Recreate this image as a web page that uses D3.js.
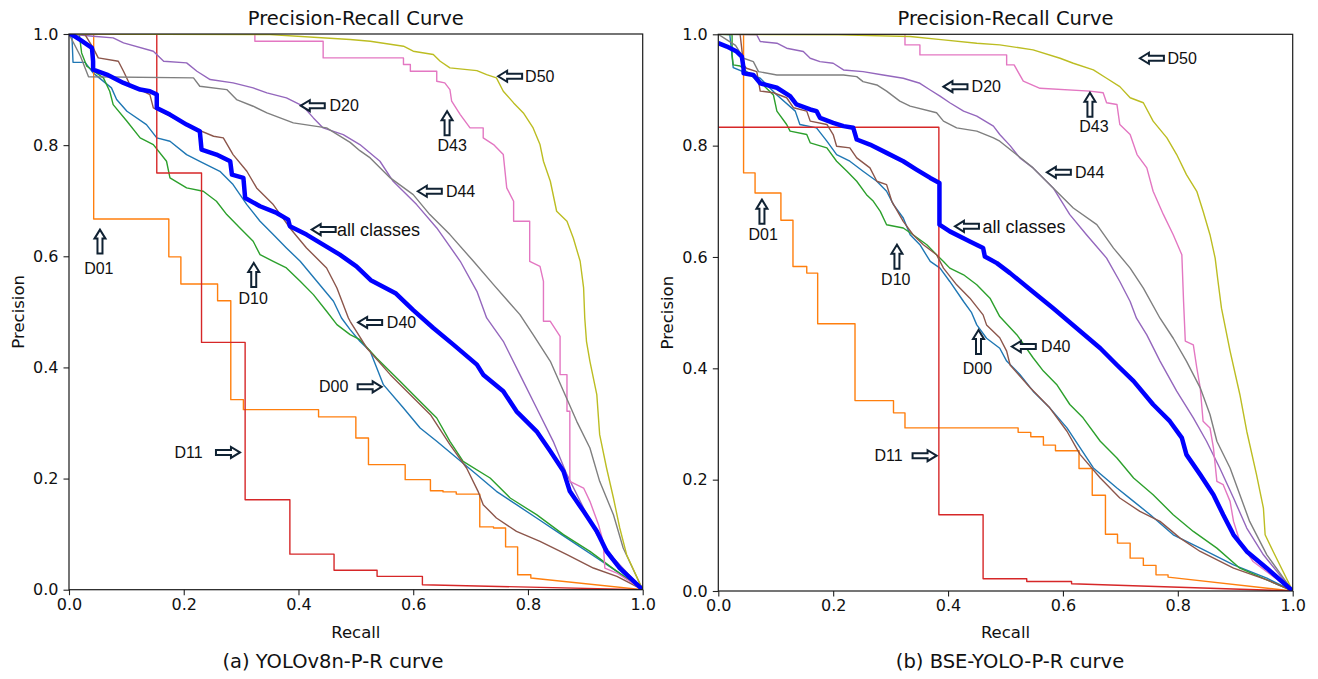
<!DOCTYPE html>
<html>
<head>
<meta charset="utf-8">
<script src="https://cdn.jsdelivr.net/npm/d3@7"></script>
<style>
  body { margin: 0; background: #fff; }
  .cjk { font-family: "DejaVu Sans", "Noto Sans", sans-serif; fill: #111; }
  .note { font-family: "Liberation Sans", Arial, sans-serif; font-size: 16px; fill: #111; }
</style>
</head>
<body>
<svg id="chart" width="1318" height="679"></svg>
<script>
// class names, in the order they are plotted
const classNames = ["D00", "D01", "D10", "D11", "D20", "D40", "D43", "D44", "D50"];
const tickValues = [0, 0.2, 0.4, 0.6, 0.8, 1.0];

// ---- (a) YOLOv8n : [recall, precision] ----
const v8_D00 = [[0,1],[0.005,1],[0.007,0.949],[0.028,0.949],[0.042,0.930],[0.074,0.903],[0.083,0.882],[0.101,0.861],[0.135,0.837],[0.153,0.813],[0.176,0.807],[0.205,0.783],[0.228,0.771],[0.263,0.753],[0.286,0.729],[0.310,0.693],[0.333,0.663],[0.356,0.639],[0.379,0.615],[0.403,0.591],[0.432,0.555],[0.461,0.519],[0.475,0.489],[0.490,0.468],[0.507,0.447],[0.525,0.429],[0.548,0.369],[0.583,0.327],[0.612,0.291],[0.641,0.267],[0.676,0.237],[0.711,0.207],[0.745,0.177],[0.780,0.153],[0.815,0.129],[0.850,0.105],[0.885,0.081],[0.920,0.057],[0.955,0.033],[1,0]];
const v8_D01 = [[0,1],[0.043,1],[0.043,0.667],[0.174,0.667],[0.174,0.599],[0.195,0.599],[0.195,0.550],[0.259,0.550],[0.259,0.520],[0.282,0.520],[0.282,0.342],[0.304,0.342],[0.304,0.324],[0.435,0.324],[0.435,0.311],[0.500,0.311],[0.500,0.273],[0.522,0.273],[0.522,0.225],[0.586,0.225],[0.586,0.198],[0.630,0.198],[0.630,0.178],[0.652,0.178],[0.652,0.176],[0.675,0.176],[0.675,0.172],[0.716,0.172],[0.716,0.113],[0.740,0.113],[0.740,0.111],[0.761,0.111],[0.761,0.077],[0.782,0.077],[0.782,0.027],[0.805,0.027],[0.805,0.021],[1,0]];
const v8_D10 = [[0,1],[0.018,0.999],[0.022,0.966],[0.031,0.942],[0.060,0.921],[0.071,0.897],[0.077,0.873],[0.101,0.843],[0.124,0.813],[0.147,0.801],[0.170,0.771],[0.176,0.741],[0.205,0.723],[0.234,0.717],[0.257,0.699],[0.275,0.675],[0.298,0.651],[0.321,0.627],[0.333,0.603],[0.356,0.591],[0.379,0.579],[0.403,0.555],[0.426,0.531],[0.449,0.501],[0.467,0.477],[0.490,0.459],[0.507,0.450],[0.536,0.417],[0.577,0.375],[0.606,0.345],[0.641,0.309],[0.664,0.267],[0.687,0.231],[0.734,0.201],[0.769,0.165],[0.815,0.135],[0.862,0.099],[0.908,0.069],[0.955,0.033],[1,0]];
const v8_D11 = [[0,1],[0.153,1],[0.153,0.750],[0.231,0.750],[0.231,0.445],[0.307,0.445],[0.307,0.162],[0.385,0.162],[0.385,0.064],[0.462,0.064],[0.462,0.035],[0.537,0.035],[0.537,0.024],[0.616,0.024],[0.616,0.009],[1,0]];
const v8_D20 = [[0,1],[0.042,0.996],[0.077,0.993],[0.095,0.984],[0.147,0.969],[0.165,0.951],[0.205,0.948],[0.223,0.933],[0.246,0.918],[0.286,0.912],[0.321,0.903],[0.345,0.894],[0.379,0.885],[0.408,0.870],[0.426,0.849],[0.443,0.831],[0.478,0.819],[0.507,0.801],[0.542,0.771],[0.565,0.735],[0.606,0.693],[0.641,0.651],[0.682,0.591],[0.711,0.537],[0.728,0.489],[0.757,0.447],[0.786,0.387],[0.815,0.327],[0.844,0.267],[0.868,0.207],[0.897,0.147],[0.920,0.099],[0.949,0.057],[1,0]];
const v8_D40 = [[0,1],[0.028,0.999],[0.042,0.975],[0.051,0.957],[0.086,0.951],[0.095,0.933],[0.106,0.909],[0.141,0.891],[0.147,0.867],[0.176,0.852],[0.217,0.831],[0.252,0.816],[0.269,0.813],[0.286,0.783],[0.310,0.753],[0.327,0.723],[0.356,0.693],[0.385,0.651],[0.414,0.615],[0.449,0.579],[0.467,0.543],[0.487,0.489],[0.490,0.483],[0.519,0.435],[0.560,0.387],[0.595,0.351],[0.630,0.315],[0.664,0.261],[0.693,0.219],[0.713,0.177],[0.722,0.153],[0.745,0.129],[0.780,0.105],[0.821,0.087],[0.868,0.063],[0.914,0.039],[0.955,0.024],[1,0]];
const v8_D43 = [[0,1],[0.324,1],[0.324,0.987],[0.443,0.987],[0.443,0.957],[0.583,0.957],[0.583,0.945],[0.595,0.945],[0.595,0.933],[0.641,0.933],[0.641,0.915],[0.655,0.912],[0.664,0.900],[0.667,0.879],[0.682,0.855],[0.699,0.831],[0.722,0.831],[0.722,0.813],[0.740,0.801],[0.757,0.783],[0.763,0.723],[0.775,0.699],[0.775,0.663],[0.803,0.663],[0.803,0.591],[0.821,0.582],[0.827,0.555],[0.827,0.483],[0.839,0.483],[0.856,0.456],[0.856,0.387],[0.868,0.387],[0.868,0.321],[0.873,0.321],[0.873,0.195],[0.897,0.183],[0.908,0.159],[0.923,0.117],[0.931,0.087],[0.934,0.039],[0.955,0.030],[1,0]];
const v8_D44 = [[0,1],[0.020,0.960],[0.034,0.923],[0.217,0.921],[0.228,0.906],[0.275,0.900],[0.292,0.882],[0.321,0.870],[0.345,0.858],[0.391,0.840],[0.449,0.831],[0.490,0.805],[0.507,0.790],[0.525,0.777],[0.560,0.741],[0.600,0.711],[0.629,0.675],[0.664,0.639],[0.705,0.591],[0.740,0.549],[0.786,0.495],[0.809,0.459],[0.839,0.411],[0.862,0.357],[0.885,0.303],[0.908,0.255],[0.925,0.195],[0.949,0.135],[0.966,0.075],[1,0]];
const v8_D50 = [[0,1],[0.350,0.999],[0.490,0.990],[0.525,0.987],[0.583,0.978],[0.600,0.969],[0.635,0.963],[0.647,0.951],[0.664,0.939],[0.711,0.934],[0.728,0.927],[0.745,0.921],[0.757,0.897],[0.775,0.876],[0.792,0.858],[0.809,0.831],[0.821,0.801],[0.827,0.771],[0.839,0.735],[0.850,0.681],[0.868,0.663],[0.879,0.633],[0.891,0.591],[0.897,0.543],[0.899,0.489],[0.902,0.447],[0.908,0.411],[0.920,0.351],[0.925,0.279],[0.937,0.219],[0.949,0.165],[0.960,0.111],[0.972,0.063],[1,0]];
const v8_all = [[0,1],[0.005,0.999],[0.019,0.990],[0.040,0.975],[0.042,0.951],[0.042,0.936],[0.066,0.927],[0.095,0.912],[0.124,0.900],[0.141,0.897],[0.153,0.891],[0.153,0.867],[0.176,0.855],[0.205,0.837],[0.228,0.825],[0.231,0.792],[0.257,0.783],[0.281,0.771],[0.284,0.747],[0.304,0.741],[0.307,0.705],[0.333,0.690],[0.362,0.678],[0.382,0.666],[0.385,0.654],[0.414,0.639],[0.443,0.621],[0.472,0.603],[0.501,0.582],[0.526,0.557],[0.570,0.533],[0.600,0.503],[0.635,0.471],[0.670,0.441],[0.711,0.405],[0.722,0.387],[0.757,0.357],[0.780,0.321],[0.815,0.285],[0.839,0.249],[0.862,0.213],[0.873,0.177],[0.897,0.141],[0.920,0.105],[0.937,0.069],[0.960,0.039],[1,0]];

// ---- (b) BSE-YOLO : [recall, precision] ----
const bse_D00 = [[0,1],[0.020,1],[0.026,0.940],[0.050,0.930],[0.073,0.921],[0.102,0.891],[0.134,0.862],[0.142,0.838],[0.171,0.832],[0.189,0.808],[0.206,0.784],[0.229,0.772],[0.252,0.754],[0.276,0.736],[0.293,0.718],[0.305,0.694],[0.322,0.670],[0.334,0.640],[0.351,0.622],[0.369,0.592],[0.386,0.580],[0.403,0.556],[0.427,0.520],[0.441,0.500],[0.450,0.478],[0.467,0.454],[0.490,0.436],[0.502,0.413],[0.525,0.389],[0.548,0.359],[0.577,0.329],[0.607,0.293],[0.630,0.257],[0.653,0.221],[0.694,0.185],[0.723,0.161],[0.752,0.137],[0.792,0.101],[0.839,0.077],[0.897,0.047],[0.955,0.023],[1,0]];
const bse_D01 = [[0,1],[0.044,1],[0.044,0.751],[0.064,0.751],[0.064,0.715],[0.109,0.715],[0.109,0.666],[0.130,0.666],[0.130,0.583],[0.154,0.583],[0.154,0.571],[0.173,0.571],[0.173,0.480],[0.238,0.480],[0.238,0.342],[0.305,0.342],[0.305,0.320],[0.325,0.320],[0.325,0.293],[0.522,0.293],[0.522,0.285],[0.544,0.285],[0.544,0.277],[0.566,0.277],[0.566,0.262],[0.587,0.262],[0.587,0.252],[0.628,0.252],[0.628,0.220],[0.651,0.220],[0.651,0.172],[0.674,0.172],[0.674,0.102],[0.695,0.102],[0.695,0.086],[0.717,0.086],[0.717,0.059],[0.740,0.059],[0.740,0.046],[0.762,0.046],[0.762,0.029],[0.783,0.029],[0.783,0.025],[1,0]];
const bse_D10 = [[0,1],[0.024,0.999],[0.024,0.963],[0.026,0.945],[0.038,0.943],[0.049,0.933],[0.078,0.909],[0.096,0.891],[0.102,0.862],[0.119,0.838],[0.125,0.826],[0.154,0.820],[0.160,0.805],[0.189,0.796],[0.206,0.772],[0.224,0.754],[0.241,0.736],[0.258,0.712],[0.270,0.700],[0.282,0.682],[0.293,0.658],[0.322,0.652],[0.339,0.640],[0.363,0.622],[0.380,0.604],[0.392,0.592],[0.403,0.580],[0.427,0.568],[0.450,0.550],[0.473,0.526],[0.490,0.493],[0.520,0.460],[0.548,0.419],[0.566,0.395],[0.589,0.371],[0.612,0.335],[0.635,0.311],[0.665,0.269],[0.694,0.239],[0.723,0.203],[0.757,0.173],[0.792,0.137],[0.827,0.107],[0.868,0.077],[0.908,0.041],[0.955,0.020],[1,0]];
const bse_D11 = [[0,0.833],[0.384,0.833],[0.384,0.137],[0.461,0.137],[0.461,0.022],[0.537,0.022],[0.537,0.017],[0.615,0.017],[0.615,0.013],[1,0]];
const bse_D20 = [[0,1],[0.067,0.999],[0.073,0.987],[0.102,0.984],[0.119,0.975],[0.148,0.969],[0.160,0.957],[0.177,0.951],[0.200,0.948],[0.218,0.936],[0.252,0.933],[0.287,0.927],[0.322,0.921],[0.351,0.912],[0.369,0.900],[0.386,0.889],[0.403,0.877],[0.427,0.862],[0.450,0.853],[0.479,0.835],[0.490,0.820],[0.508,0.800],[0.525,0.778],[0.548,0.760],[0.583,0.724],[0.612,0.676],[0.641,0.640],[0.676,0.598],[0.699,0.556],[0.717,0.520],[0.728,0.490],[0.746,0.460],[0.769,0.413],[0.798,0.359],[0.827,0.311],[0.850,0.269],[0.873,0.221],[0.897,0.167],[0.920,0.113],[0.949,0.065],[1,0]];
const bse_D40 = [[0,1],[0.038,1],[0.044,0.945],[0.049,0.939],[0.067,0.933],[0.073,0.898],[0.096,0.895],[0.119,0.886],[0.131,0.868],[0.154,0.862],[0.160,0.844],[0.189,0.838],[0.200,0.820],[0.206,0.799],[0.229,0.796],[0.241,0.778],[0.264,0.760],[0.276,0.736],[0.293,0.730],[0.302,0.700],[0.322,0.664],[0.339,0.640],[0.357,0.622],[0.380,0.604],[0.392,0.580],[0.415,0.550],[0.438,0.526],[0.461,0.496],[0.467,0.478],[0.490,0.455],[0.502,0.431],[0.508,0.406],[0.543,0.365],[0.577,0.329],[0.607,0.287],[0.630,0.245],[0.665,0.203],[0.699,0.167],[0.734,0.143],[0.769,0.125],[0.804,0.095],[0.839,0.071],[0.897,0.041],[0.955,0.020],[1,0]];
const bse_D43 = [[0,1],[0.325,1],[0.325,0.981],[0.351,0.981],[0.351,0.963],[0.502,0.963],[0.502,0.945],[0.515,0.945],[0.531,0.916],[0.560,0.903],[0.647,0.898],[0.670,0.895],[0.676,0.877],[0.694,0.874],[0.699,0.838],[0.717,0.820],[0.729,0.784],[0.746,0.760],[0.757,0.718],[0.775,0.676],[0.792,0.640],[0.807,0.604],[0.810,0.520],[0.813,0.449],[0.827,0.442],[0.833,0.401],[0.839,0.365],[0.844,0.305],[0.856,0.293],[0.862,0.257],[0.868,0.197],[0.879,0.191],[0.891,0.161],[0.897,0.125],[0.908,0.089],[0.931,0.053],[1,0]];
const bse_D44 = [[0,1],[0.030,0.980],[0.044,0.957],[0.061,0.951],[0.070,0.933],[0.102,0.927],[0.218,0.927],[0.241,0.924],[0.252,0.915],[0.276,0.909],[0.293,0.898],[0.316,0.880],[0.334,0.871],[0.380,0.859],[0.392,0.844],[0.415,0.832],[0.450,0.826],[0.479,0.814],[0.490,0.808],[0.519,0.784],[0.548,0.760],[0.583,0.724],[0.618,0.688],[0.659,0.658],[0.688,0.616],[0.717,0.580],[0.740,0.544],[0.769,0.490],[0.792,0.454],[0.815,0.413],[0.839,0.365],[0.856,0.317],[0.868,0.269],[0.891,0.221],[0.908,0.173],[0.925,0.125],[0.955,0.065],[1,0]];
const bse_D50 = [[0,1],[0.209,0.999],[0.334,0.996],[0.392,0.990],[0.450,0.984],[0.490,0.981],[0.548,0.972],[0.595,0.957],[0.618,0.948],[0.653,0.936],[0.676,0.921],[0.699,0.906],[0.717,0.886],[0.740,0.877],[0.757,0.844],[0.781,0.814],[0.798,0.784],[0.815,0.748],[0.833,0.718],[0.844,0.682],[0.856,0.640],[0.865,0.598],[0.870,0.556],[0.876,0.508],[0.891,0.431],[0.908,0.353],[0.920,0.287],[0.937,0.209],[0.949,0.149],[0.952,0.101],[0.966,0.071],[1,0]];
const bse_all = [[0,0.984],[0.015,0.978],[0.032,0.969],[0.041,0.960],[0.044,0.939],[0.044,0.930],[0.061,0.927],[0.073,0.912],[0.102,0.904],[0.125,0.889],[0.136,0.874],[0.160,0.865],[0.171,0.862],[0.177,0.850],[0.200,0.841],[0.218,0.835],[0.235,0.832],[0.241,0.811],[0.264,0.802],[0.293,0.787],[0.322,0.772],[0.345,0.757],[0.369,0.742],[0.385,0.733],[0.385,0.658],[0.403,0.646],[0.438,0.628],[0.461,0.616],[0.464,0.601],[0.485,0.589],[0.508,0.571],[0.545,0.540],[0.583,0.508],[0.624,0.472],[0.665,0.436],[0.694,0.406],[0.723,0.377],[0.757,0.335],[0.786,0.305],[0.807,0.275],[0.815,0.245],[0.839,0.209],[0.862,0.173],[0.879,0.137],[0.897,0.101],[0.920,0.071],[0.955,0.041],[1,0]];

// annotations: label, arrow tip [recall, precision], arrow direction, label anchor [recall, precision]
const v8_notes = [
  ["D50", [0.748, 0.924], "left", [0.795, 0.924]],
  ["D43", [0.659, 0.861], "up", [0.668, 0.800]],
  ["D20", [0.404, 0.871], "left", [0.454, 0.871]],
  ["D44", [0.608, 0.717], "left", [0.657, 0.717]],
  ["all classes", [0.423, 0.648], "left", [0.467, 0.648]],
  ["D01", [0.054, 0.648], "up", [0.052, 0.579]],
  ["D10", [0.322, 0.588], "up", [0.321, 0.525]],
  ["D40", [0.504, 0.481], "left", [0.554, 0.481]],
  ["D00", [0.545, 0.365], "right", [0.487, 0.366]],
  ["D11", [0.298, 0.247], "right", [0.233, 0.247]]
];
const bse_notes = [
  ["D50", [0.734, 0.957], "left", [0.782, 0.957]],
  ["D43", [0.647, 0.895], "up", [0.654, 0.835]],
  ["D20", [0.392, 0.906], "left", [0.441, 0.906]],
  ["D44", [0.572, 0.752], "left", [0.621, 0.752]],
  ["all classes", [0.412, 0.655], "left", [0.460, 0.655]],
  ["D01", [0.076, 0.703], "up", [0.078, 0.640]],
  ["D10", [0.311, 0.622], "up", [0.309, 0.560]],
  ["D00", [0.453, 0.469], "up", [0.451, 0.401]],
  ["D40", [0.511, 0.439], "left", [0.562, 0.439]],
  ["D11", [0.380, 0.243], "right", [0.321, 0.243]]
];

// matplotlib tab10 colours for the classes
const palette = ["#1f77b4", "#ff7f0e", "#2ca02c", "#d62728", "#9467bd", "#8c564b", "#e377c2", "#7f7f7f", "#bcbd22"];

const panels = [
  { id: "a", curves: [v8_D00, v8_D01, v8_D10, v8_D11, v8_D20, v8_D40, v8_D43, v8_D44, v8_D50], all: v8_all,
    notes: v8_notes, caption: "(a) YOLOv8n-P-R curve", captionX: 333, left: 69, right: 642.7, top: 34, bottom: 589.7 },
  { id: "b", curves: [bse_D00, bse_D01, bse_D10, bse_D11, bse_D20, bse_D40, bse_D43, bse_D44, bse_D50], all: bse_all,
    notes: bse_notes, caption: "(b) BSE-YOLO-P-R curve", captionX: 1010, left: 718.3, right: 1292.7, top: 34.3, bottom: 591 }
];

const svg = d3.select("#chart");
svg.append("rect").attr("width", 1318).attr("height", 679).attr("fill", "#fff");

// outlined block arrow with its tip at (x, y)
function blockArrow(g, x, y, dir) {
  const len = 24, head = 9, hw = 5.5, sw = 2.5;
  let pts = [[0, 0], [head, -hw], [head, -sw], [len, -sw], [len, sw], [head, sw], [head, hw]];
  if (dir === "right") pts = pts.map(p => [-p[0], p[1]]);
  if (dir === "up") pts = pts.map(p => [p[1], p[0]]);
  g.append("polygon")
    .attr("points", pts.map(p => (x + p[0]) + "," + (y + p[1])).join(" "))
    .attr("fill", "#fff")
    .attr("stroke", "#102233")
    .attr("stroke-width", 2)
    .attr("stroke-linejoin", "miter");
}

panels.forEach(cfg => {
  const x = d3.scaleLinear().domain([0, 1]).range([cfg.left, cfg.right]);
  const y = d3.scaleLinear().domain([0, 1]).range([cfg.bottom, cfg.top]);
  const g = svg.append("g");

  g.append("clipPath").attr("id", "clip-" + cfg.id)
    .append("rect")
    .attr("x", cfg.left).attr("y", cfg.top)
    .attr("width", cfg.right - cfg.left).attr("height", cfg.bottom - cfg.top);

  const line = d3.line().x(d => x(d[0])).y(d => y(d[1]));
  const plot = g.append("g").attr("clip-path", "url(#clip-" + cfg.id + ")");

  cfg.curves.forEach((pts, i) => {
    plot.append("path")
      .attr("d", line(pts))
      .attr("fill", "none")
      .attr("stroke", palette[i])
      .attr("stroke-width", 1.4)
      .attr("stroke-linejoin", "round");
  });
  plot.append("path")
    .attr("d", line(cfg.all))
    .attr("fill", "none")
    .attr("stroke", "#0000ff")
    .attr("stroke-width", 4.5)
    .attr("stroke-linejoin", "round");

  // axes
  const fmt = d3.format(".1f");
  const xAxis = g.append("g")
    .attr("transform", "translate(0," + cfg.bottom + ")")
    .call(d3.axisBottom(x).tickValues(tickValues).tickFormat(fmt).tickSize(5.5).tickPadding(3).tickSizeOuter(0));
  const yAxis = g.append("g")
    .attr("transform", "translate(" + cfg.left + ",0)")
    .call(d3.axisLeft(y).tickValues(tickValues).tickFormat(fmt).tickSize(5.5).tickPadding(5).tickSizeOuter(0));
  [xAxis, yAxis].forEach(a => {
    a.select(".domain").remove();
    a.selectAll(".tick line").attr("stroke", "#222").attr("stroke-width", 1.1);
    a.selectAll(".tick text").attr("class", "cjk").style("font-size", "16px").attr("fill", "#111");
  });

  // frame
  g.append("rect")
    .attr("x", cfg.left).attr("y", cfg.top)
    .attr("width", cfg.right - cfg.left).attr("height", cfg.bottom - cfg.top)
    .attr("fill", "none").attr("stroke", "#1a1a1a").attr("stroke-width", 1.2);

  const cx = (cfg.left + cfg.right) / 2;
  g.append("text").attr("class", "cjk").attr("x", cx).attr("y", 25)
    .attr("text-anchor", "middle").style("font-size", "19.5px").text("Precision-Recall Curve");
  g.append("text").attr("class", "cjk").attr("x", cx).attr("y", 638)
    .attr("text-anchor", "middle").style("font-size", "16.5px").text("Recall");
  g.append("text").attr("class", "cjk")
    .attr("transform", "translate(" + (cfg.left - 45) + "," + ((cfg.top + cfg.bottom) / 2) + ") rotate(-90)")
    .attr("text-anchor", "middle").style("font-size", "16.5px").text("Precision");
  g.append("text").attr("class", "cjk").attr("x", cfg.captionX).attr("y", 668)
    .attr("text-anchor", "middle").style("font-size", "19.5px").text(cfg.caption);

  // arrows and labels
  cfg.notes.forEach(([label, tip, dir, at]) => {
    blockArrow(g, x(tip[0]), y(tip[1]), dir);
    g.append("text").attr("class", "note")
      .attr("x", x(at[0])).attr("y", y(at[1]))
      .attr("dy", "0.36em")
      .attr("text-anchor", dir === "left" ? "start" : dir === "right" ? "end" : "middle")
      .style("font-size", label === "all classes" ? "18px" : "16px")
      .text(label);
  });
});
</script>
</body>
</html>
